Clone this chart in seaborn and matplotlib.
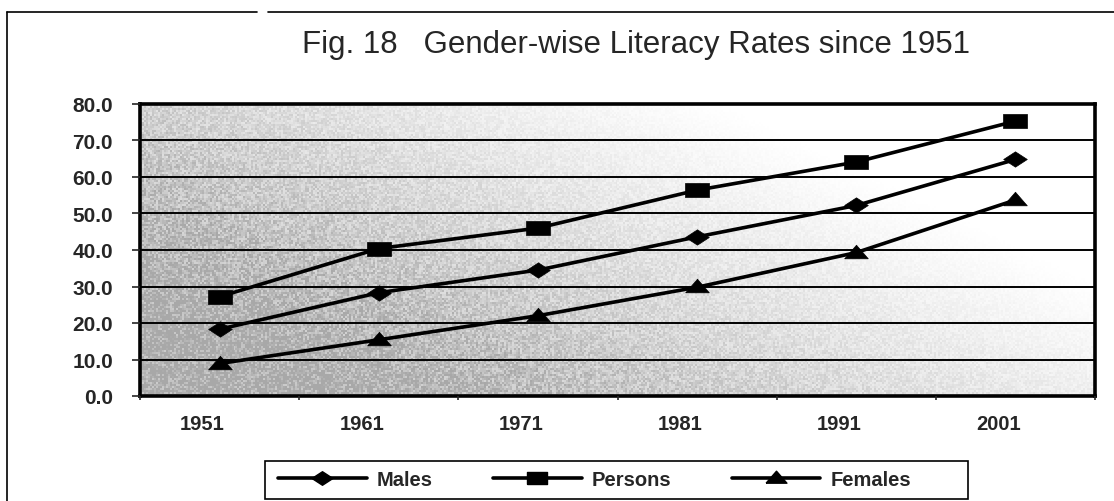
import numpy as np
import matplotlib
matplotlib.use("Agg")
import matplotlib.pyplot as plt
import matplotlib.transforms as mtransforms
import pandas as pd
import seaborn as sns
from matplotlib.lines import Line2D
from matplotlib.patches import Rectangle

years = ["1951", "1961", "1971", "1981", "1991", "2001"]
males = [18.3, 28.3, 34.5, 43.6, 52.2, 64.8]
persons = [27.2, 40.4, 46.0, 56.4, 64.1, 75.3]
females = [8.9, 15.4, 22.0, 29.8, 39.3, 53.7]
series_names = ["Males", "Persons", "Females"]
y_ticks = [0, 10, 20, 30, 40, 50, 60, 70, 80]

df = pd.DataFrame({
    "Year": years * 3,
    "Rate": males + persons + females,
    "Series": np.repeat(series_names, len(years)),
})

sns.set_style("white")
plt.rcParams["font.family"] = ["Liberation Sans", "DejaVu Sans"]

W, H = 1114, 502
fig = plt.figure(figsize=(W / 100, H / 100), dpi=100)
ax = fig.add_axes([140 / W, 1 - 397 / H, 955 / W, 292 / H])

# stippled grey background, darker towards lower left
gx, gy = np.meshgrid(np.linspace(0, 1, 480), np.linspace(0, 1, 146))
shade = np.clip(1.2 - 0.95 * gx - 0.6 * gy, 0, 1) ** 1.2
rng = np.random.default_rng(3)
shade = np.clip(shade * (0.6 + 0.8 * rng.random(shade.shape)), 0, 1)
bg = 1 - 0.34 * shade
ax.imshow(bg, cmap="gray", vmin=0, vmax=1, extent=[0, 1, 0, 1],
          transform=ax.transAxes, origin="lower", aspect="auto",
          interpolation="nearest", zorder=0)

# scanned markers are wider than tall
markers = {
    "Males": [(-1, 0), (0, -0.65), (1, 0), (0, 0.65), (-1, 0)],
    "Persons": [(-1, -0.62), (1, -0.62), (1, 0.62), (-1, 0.62), (-1, -0.62)],
    "Females": [(-1, -0.45), (1, -0.45), (0, 0.7), (-1, -0.45)],
}
for name in series_names:
    sub = df[df["Series"] == name]
    sns.lineplot(data=sub, x="Year", y="Rate", ax=ax, color="black",
                 linewidth=2.6, marker=markers[name], markersize=17,
                 markeredgecolor="black", markeredgewidth=0.5,
                 sort=False, legend=False, zorder=3)

ax.set_xlim(-0.5, len(years) - 0.5)
ax.set_ylim(0, 80)
ax.set_yticks(y_ticks)
ax.set_yticklabels([f"{v:.1f}" for v in y_ticks])
ax.set_xticks(range(len(years)))
ax.set_xticklabels(years)
ax.set_xticks(np.arange(-0.5, len(years), 1), minor=True)
ax.set_xlabel("")
ax.set_ylabel("")
ax.yaxis.grid(True, color="black", linewidth=1.4)
ax.set_axisbelow(False)
for sp in ax.spines.values():
    sp.set_color("black")
    sp.set_linewidth(2.6)
ax.tick_params(axis="y", which="major", length=6, width=1.2, direction="out",
               left=True, labelsize=15, pad=13.5)
ax.tick_params(axis="x", which="major", length=0, labelsize=14.5, pad=13)
ax.tick_params(axis="x", which="minor", length=3, width=1.2, direction="out",
               bottom=True)
shift = mtransforms.ScaledTranslation(-0.17, 0, fig.dpi_scale_trans)
for lab in ax.get_xticklabels():
    lab.set_transform(lab.get_transform() + shift)
for lab in ax.get_xticklabels() + ax.get_yticklabels():
    lab.set_fontweight("bold")

fig.text(302 / W, 1 - 53 / H, "Fig. 18   Gender-wise Literacy Rates since 1951",
         ha="left", va="baseline", fontsize=22.5)

handles = [Line2D([0], [0], color="black", linewidth=2.6, marker=markers[n],
                  markersize=15) for n in series_names]
leg = fig.legend(handles, series_names, loc="center left", ncol=3,
                 bbox_to_anchor=(278 / W, 1 - 481 / H), frameon=False,
                 handlelength=4.4, handletextpad=0.5, columnspacing=3.0,
                 prop={"size": 14.5, "weight": "bold"},
                 borderpad=0, borderaxespad=0)
fig.add_artist(Rectangle((265 / W, 1 - 500 / H), 703 / W, 38 / H,
                         transform=fig.transFigure, fill=False,
                         edgecolor="black", linewidth=1.2))

# outer frame lines (top and left)
fig.add_artist(Line2D([7 / W, 257 / W], [1 - 13 / H, 1 - 13 / H],
                      color="black", linewidth=1.2, transform=fig.transFigure))
fig.add_artist(Line2D([268 / W, 1.0], [1 - 13 / H, 1 - 13 / H],
                      color="black", linewidth=1.2, transform=fig.transFigure))
fig.add_artist(Line2D([7 / W, 7 / W], [0.0, 1 - 13 / H], color="black",
                      linewidth=1.2, transform=fig.transFigure))

fig.savefig("out.png", dpi=100)
